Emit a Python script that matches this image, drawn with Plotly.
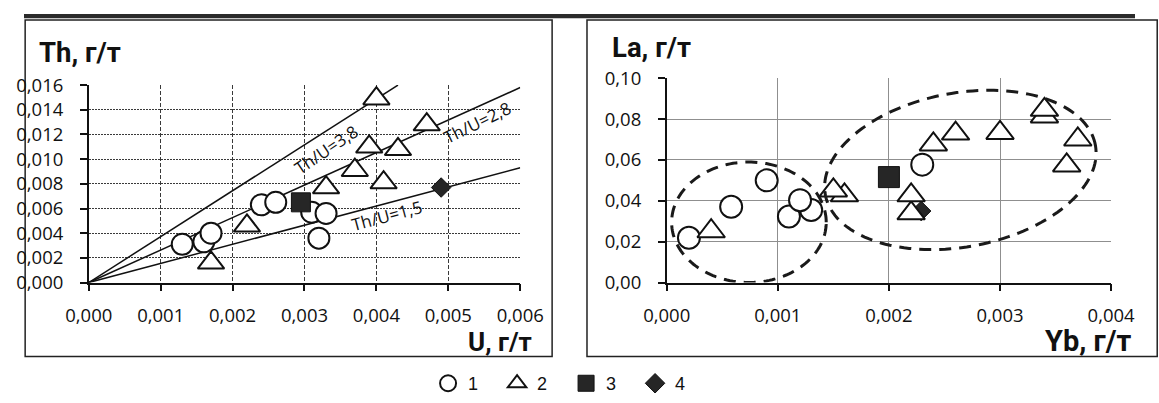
import numpy as np
import plotly.graph_objects as go

# ---------------- data ----------------
# Left panel: U (x) vs Th (y), g/t
U1 = [0.0013, 0.0016, 0.0017, 0.0024, 0.0026, 0.0031, 0.0033, 0.0032]
Th1 = [0.0031, 0.0033, 0.0040, 0.0063, 0.0065, 0.0057, 0.0056, 0.0036]
U2 = [0.0017, 0.0022, 0.0033, 0.0037, 0.0039, 0.0041, 0.0043, 0.0047, 0.0040]
Th2 = [0.0016, 0.0046, 0.0077, 0.0091, 0.0110, 0.0081, 0.0108, 0.0128, 0.0149]
U3 = [0.00295]
Th3 = [0.0065]
U4 = [0.0049]
Th4 = [0.0077]

# Th/U reference lines (label, end point as drawn) and label positions
ratio_labels = ["Th/U=3,8", "Th/U=2,8", "Th/U=1,5"]
line_end_U = [0.0043, 0.0060, 0.0060]
line_end_Th = [0.0160, 0.0158, 0.0093]
label_U = [0.0033, 0.0054, 0.00415]
label_Th = [0.0108, 0.0130, 0.0054]
label_angle = [-34, -26, -15]

# Right panel: Yb (x) vs La (y), g/t
Yb1 = [0.0002, 0.00058, 0.0009, 0.0011, 0.0013, 0.0012, 0.0023]
La1 = [0.0219, 0.0371, 0.0500, 0.0323, 0.0355, 0.0403, 0.0577]
Yb2 = [0.0004, 0.0016, 0.0015, 0.0022, 0.0022, 0.0024, 0.0026, 0.0030, 0.0034, 0.0034, 0.0036, 0.0037]
La2 = [0.0251, 0.0427, 0.0451, 0.0339, 0.0427, 0.0676, 0.0729, 0.0732, 0.0813, 0.0845, 0.0573, 0.0700]
Yb3 = [0.0020]
La3 = [0.0516]
Yb4 = [0.00229]
La4 = [0.0350]

# dashed grouping ellipses: centre (Yb, La), semi-axes (as seen, px), tilt (deg)
ell_cx = [0.00074, 0.002643]
ell_cy = [0.0295, 0.0551]
ell_a = [80, 142]
ell_b = [61, 78]
ell_ang = [0, 10]

legend_names = ["1", "2", "3", "4"]

# ---------------- layout geometry ----------------
W, H = 1159, 403
# the photographed page is placed with an offset and slight shrink; compensate
OX, OY, SCX, SCY = 22.0, 10.0, 0.962, 0.950
def ix(p):
    return (p - OX) / SCX
def iy(p):
    return (p - OY) / SCY
def px(p):          # target picture x -> paper fraction
    return ix(p) / W
def py(p):          # target picture y -> paper fraction
    return 1 - iy(p) / H

FONT = "Open Sans"
TFONT = "Roboto"

L_x = [87, 520]
L_y = [282, 82]
R_x = [667, 1113]
R_y = [282, 75]

fig = go.Figure()

for i in range(3):
    fig.add_trace(go.Scatter(x=[0, line_end_U[i]], y=[0, line_end_Th[i]], mode="lines",
                             line=dict(color="#111", width=1.5), showlegend=False,
                             hoverinfo="skip", xaxis="x", yaxis="y"))

circ = dict(symbol="circle", size=21, color="white", line=dict(color="#111", width=2))
tri = dict(symbol="triangle-up", size=23, color="white", line=dict(color="#111", width=2))
sq = dict(symbol="square", size=19, color="#262626", line=dict(color="#111", width=1))
dia = dict(symbol="diamond", size=15, color="#262626", line=dict(color="#111", width=1))

fig.add_trace(go.Scatter(x=U1, y=Th1, mode="markers", marker=circ, name=legend_names[0],
                         legendrank=1, legendgroup="1", xaxis="x", yaxis="y"))
fig.add_trace(go.Scatter(x=U4, y=Th4, mode="markers", marker=dia, name=legend_names[3],
                         legendrank=4, legendgroup="4", xaxis="x", yaxis="y"))
fig.add_trace(go.Scatter(x=U3, y=Th3, mode="markers", marker=sq, name=legend_names[2],
                         legendrank=3, legendgroup="3", xaxis="x", yaxis="y"))
fig.add_trace(go.Scatter(x=U2, y=Th2, mode="markers", marker=tri, name=legend_names[1],
                         legendrank=2, legendgroup="2", xaxis="x", yaxis="y"))

fig.add_trace(go.Scatter(x=Yb1, y=La1, mode="markers", marker=dict(circ, size=22), showlegend=False,
                         legendgroup="1", xaxis="x2", yaxis="y2"))
fig.add_trace(go.Scatter(x=Yb4, y=La4, mode="markers", marker=dia, showlegend=False,
                         legendgroup="4", xaxis="x2", yaxis="y2"))
fig.add_trace(go.Scatter(x=Yb3, y=La3, mode="markers", marker=dict(sq, size=21), showlegend=False,
                         legendgroup="3", xaxis="x2", yaxis="y2"))
fig.add_trace(go.Scatter(x=Yb2, y=La2, mode="markers", marker=dict(tri, size=24), showlegend=False,
                         legendgroup="2", xaxis="x2", yaxis="y2"))

axis_common = dict(showline=True, linecolor="#111", linewidth=1.5, ticks="outside", ticklen=7,
                   tickwidth=1.5, tickcolor="#111", zeroline=False, showgrid=True,
                   tickfont=dict(family=FONT, size=18.5, color="#111"), fixedrange=True)

fig.update_layout(
    width=W, height=H, autosize=False,
    margin=dict(l=0, r=0, t=0, b=0),
    paper_bgcolor="white", plot_bgcolor="white",
    separators=", ",
    font=dict(family=FONT, color="#111"),
    xaxis=dict(axis_common, domain=[px(L_x[0]), px(L_x[1])], range=[0, 0.006], dtick=0.001, tick0=0,
               tickformat=".3f", anchor="y", gridcolor="#3a3a3a", gridwidth=1, griddash="4px,2px",
               ticklabelstandoff=8),
    yaxis=dict(axis_common, domain=[py(L_y[0]), py(L_y[1])], range=[0, 0.016], dtick=0.002, tick0=0,
               tickformat=".3f", anchor="x", gridcolor="#3a3a3a", gridwidth=1, griddash="2px,1px",
               ticklabelstandoff=13),
    xaxis2=dict(axis_common, domain=[px(R_x[0]), px(R_x[1])], range=[0, 0.004], dtick=0.001, tick0=0,
                tickformat=".3f", anchor="y2", gridcolor="#8f8f8f", gridwidth=1, ticklabelstandoff=8),
    yaxis2=dict(axis_common, domain=[py(R_y[0]), py(R_y[1])], range=[0, 0.10], dtick=0.02, tick0=0,
                tickformat=".2f", anchor="x2", gridcolor="#8f8f8f", gridwidth=1, ticklabelstandoff=13),
    legend=dict(orientation="h", x=px(566), xanchor="center", y=1 - 394 / H, yanchor="middle",
                font=dict(family="Liberation Sans", size=18, color="#111"),
                bgcolor="rgba(0,0,0,0)", entrywidth=24, itemclick=False, itemdoubleclick=False),
)

shapes = [
    dict(type="rect", xref="paper", yref="paper", x0=0, x1=1, y0=1 - 4.5 / H, y1=1,
         fillcolor="#2b2b2b", line=dict(width=0), layer="above"),
    dict(type="rect", xref="paper", yref="paper", x0=1.2 / W, x1=px(552), y0=py(357), y1=py(16),
         line=dict(color="#222", width=1.5), fillcolor="rgba(0,0,0,0)", layer="below"),
    dict(type="rect", xref="paper", yref="paper", x0=px(587), x1=1.02, y0=py(357), y1=py(16),
         line=dict(color="#222", width=1.5), fillcolor="rgba(0,0,0,0)", layer="below"),
]

# ellipses: built in the reference's pixel metric, expressed in data units
sx_ref = 115000.0   # px per Yb unit in the reference
sy_ref = 2070.0     # px per La unit in the reference
for cx, cy, a, b, ang in zip(ell_cx, ell_cy, ell_a, ell_b, ell_ang):
    t = np.linspace(0, 2 * np.pi, 160)
    th = np.radians(ang)
    dx = a * np.cos(t) * np.cos(th) - b * np.sin(t) * np.sin(th)
    dy = a * np.cos(t) * np.sin(th) + b * np.sin(t) * np.cos(th)
    xs = cx + dx / sx_ref
    ys = cy + dy / sy_ref
    path = "M" + " L".join(f"{x:.7f},{y:.6f}" for x, y in zip(xs, ys)) + " Z"
    shapes.append(dict(type="path", xref="x2", yref="y2", path=path,
                       line=dict(color="#1a1a1a", width=3, dash="12px,8px"), layer="above"))
fig.update_layout(shapes=shapes)

annotations = [
    dict(text="<b>Th, г/т</b>", xref="paper", yref="paper", x=px(35), y=py(49), xanchor="left",
         yanchor="middle", showarrow=False, font=dict(family=TFONT, size=27.5, color="#111")),
    dict(text="<b>U, г/т</b>", xref="paper", yref="paper", x=px(534), y=py(342), xanchor="right",
         yanchor="middle", showarrow=False, font=dict(family=TFONT, size=26, color="#111")),
    dict(text="<b>La, г/т</b>", xref="paper", yref="paper", x=px(610), y=py(44), xanchor="left",
         yanchor="middle", showarrow=False, font=dict(family=TFONT, size=27.5, color="#111")),
    dict(text="<b>Yb, г/т</b>", xref="paper", yref="paper", x=min(px(1137), 0.999), y=py(341),
         xanchor="right", yanchor="middle", showarrow=False,
         font=dict(family=TFONT, size=29, color="#111")),
]
for i in range(3):
    annotations.append(dict(text=ratio_labels[i], xref="x", yref="y", x=label_U[i], y=label_Th[i],
                            textangle=label_angle[i], showarrow=False,
                            font=dict(family=FONT, size=17, color="#111")))
fig.update_layout(annotations=annotations)

fig.write_html("out.html", config={"displayModeBar": False},
               post_script="document.body.style.margin='0';document.body.style.overflow='hidden';")
